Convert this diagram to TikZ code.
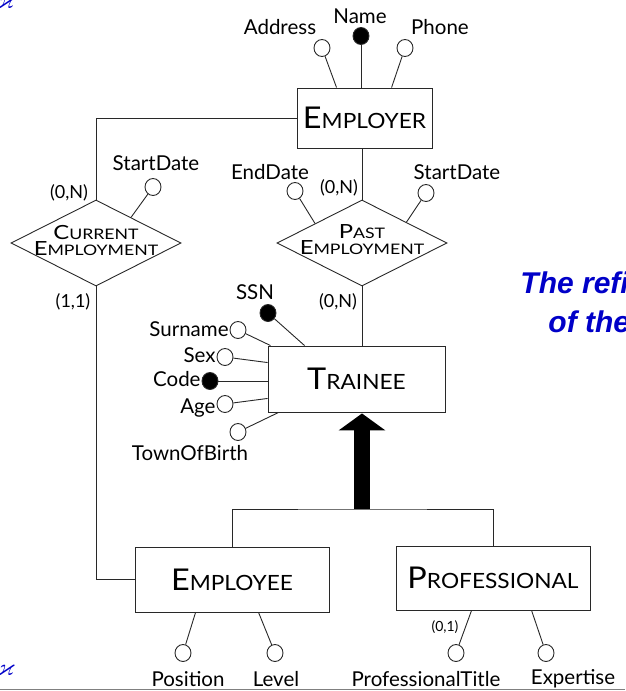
\documentclass[tikz,border=0pt]{standalone}
\usepackage{fontspec}
\usepackage{amssymb}
\setmainfont{Lato}
\newfontfamily\entfont[FakeStretch=1.08]{Lato}
\newfontfamily\relfont[FakeStretch=1.22]{Lato}
\newfontfamily\slidefont{Liberation Sans}
\usetikzlibrary{shapes.geometric,arrows.meta,calc}

\definecolor{slideblue}{RGB}{0,0,200}
\definecolor{erline}{RGB}{40,40,40}

% names in small caps: first letter big, rest small
\newcommand\entname[2]{{\entfont\fontsize{30}{30}\selectfont #1\fontsize{21}{21}\selectfont #2}}
\newcommand\relname[2]{{\relfont\fontsize{19.5}{19.5}\selectfont #1\fontsize{14.5}{14.5}\selectfont #2}}

\begin{document}
\begin{tikzpicture}[x=1pt, y=-1pt, line width=0.9pt, draw=erline, font=\fontsize{20.5}{22}\selectfont]
    \tikzstyle{entity} = [rectangle, draw=erline, minimum width=194, minimum height=65, inner sep=0]
    \tikzstyle{relation} = [diamond, draw=erline, minimum width=170, minimum height=86, inner sep=0]
    \tikzstyle{attr} = [ellipse, draw=erline, fill=white, minimum width=16, minimum height=17, inner sep=0]
    \tikzstyle{keyattr} = [attr, fill=black]
    \tikzstyle{card} = [inner sep=0, font=\fontsize{18}{18}\selectfont]

    \useasboundingbox (0,0) rectangle (625,691);

    % entities
    \node [entity, minimum width=135, minimum height=60] (employer) at (364.5,118) {\entname{E}{MPLOYER}};
    \node [entity, minimum width=177, minimum height=66] (trainee) at (356.5,379) {\entname{T}{RAINEE}};
    \node [entity] (employee) at (232,579.5) {\entname{E}{MPLOYEE}};
    \node [entity, minimum height=64] (professional) at (493,578) {\entname{P}{ROFESSIONAL}};

    % relationships
    \node [relation] (current) at (96,243) {};
    \node [align=center, inner sep=0, font=\fontsize{19}{16}\selectfont] (current-t) at (96,240) {\relname{C}{URRENT}\\\relname{E}{MPLOYMENT}};
    \node [relation] (past) at (362,243) {};
    \node [align=center, inner sep=0, font=\fontsize{19}{16}\selectfont] (past-t) at (362,240) {\relname{P}{AST}\\\relname{E}{MPLOYMENT}};

    % employer attributes
    \node [attr] (address) at (322,48) {};
    \node [keyattr] (name) at (361,36) {};
    \node [attr] (phone) at (405,48) {};
    \node (address-l) at (280,27) {Address};
    \node (name-l) at (360,16) {Name};
    \node (phone-l) at (440,27) {Phone};
    \draw (address) -- ([xshift=40]employer.north west);
    \draw (name) -- (name |- employer.north);
    \draw (phone) -- ([xshift=95]employer.north west);

    % relationship attributes
    \node [attr] (cur-start) at (153,187) {};
    \node (cur-start-l) at (156,163) {StartDate};
    \draw (cur-start) -- ($(current.north)!0.41!(current.east)$);
    \node [attr] (past-end) at (295,191) {};
    \node (past-end-l) at (270,172) {EndDate};
    \draw (past-end) -- ($(past.north)!0.55!(past.west)$);
    \node [attr] (past-start) at (426,193) {};
    \node (past-start-l) at (457,172) {StartDate};
    \draw (past-start) -- ($(past.north)!0.52!(past.east)$);

    % trainee attributes
    \node [keyattr] (ssn) at (268,313) {};
    \node (ssn-l) at (255,292) {SSN};
    \node [attr] (surname) at (238,330) {};
    \node [anchor=east, inner sep=0] (surname-l) at (229,329) {Surname};
    \node [attr] (sex) at (225,357) {};
    \node [anchor=east, inner sep=0] (sex-l) at (216,355) {Sex};
    \node [keyattr] (code) at (210,381) {};
    \node [anchor=east, inner sep=0] (code-l) at (201,379) {Code};
    \node [attr] (age) at (225,404) {};
    \node [anchor=east, inner sep=0] (age-l) at (216,408) {Age};
    \node [attr] (town) at (238,432) {};
    \node (town-l) at (190,453) {TownOfBirth};
    \draw (ssn) -- ([xshift=37]trainee.north west);
    \draw (surname) -- ([xshift=3]trainee.north west);
    \draw (sex) -- ([yshift=-17]trainee.north west);
    \draw (code) -- (code -| trainee.west);
    \draw (age) -- ([yshift=14]trainee.south west);
    \draw (town) -- ([xshift=11]trainee.south west);

    % employee and professional attributes
    \node [attr] (position) at (183,653) {};
    \node [attr] (level) at (275,653) {};
    \node [attr] (proftitle) at (456,653) {};
    \node [attr] (expertise) at (546,653) {};
    \node (position-l) at (188,679) {Position};
    \node (level-l) at (276,679) {Level};
    \node (proftitle-l) at (426,679) {ProfessionalTitle};
    \node (expertise-l) at (573,679) {Expertise};
    \draw (position) -- ([xshift=61]employee.south west);
    \draw (level) -- ([xshift=124]employee.south west);
    \draw (proftitle) -- ([xshift=76]professional.south west);
    \draw (expertise) -- ([xshift=136]professional.south west);
    \node [card, font=\fontsize{14}{14}\selectfont] (proftitle-c) at (445,627) {(0,1)};

    % relationship lines and cardinalities
    \draw (employer.west) -| (current.north);
    \draw (current.south) |- (employee.west);
    \draw (past.north) -- (past.north |- employer.south);
    \draw (past.south) -- (past.south |- trainee.north);
    \node [card] (cur-emp-c) at (69,193) {(0,N)};
    \node [card] (cur-tr-c) at (73,302) {(1,1)};
    \node [card] (past-emp-c) at (339,188) {(0,N)};
    \node [card] (past-tr-c) at (338,302) {(0,N)};

    % generalization
    \coordinate (isa) at (362,509);
    \draw (employee.north) |- (isa) -| (professional.north);
    \draw [draw=black, line width=16, -{Triangle[width=46,length=17]}] (isa) -- ([yshift=-1]isa |- trainee.south);

    % slide leftovers
    \node [anchor=west, inner sep=0, text=slideblue, font=\slidefont\bfseries\itshape\fontsize{30}{30}\selectfont] (title-a) at (520,283) {The refi};
    \node [anchor=west, inner sep=0, text=slideblue, font=\slidefont\bfseries\itshape\fontsize{30}{30}\selectfont] (title-b) at (548,322) {of the};
    \node [inner sep=0, text=slideblue, font=\fontsize{24}{24}\selectfont] (mark-a) at (6,3) {$\varkappa$};
    \node [inner sep=0, text=slideblue, font=\fontsize{24}{24}\selectfont] (mark-b) at (6,670) {$\varkappa$};
    \draw [gray, line width=1.5] (0,689.5) -- (625,689.5);
\end{tikzpicture}
\end{document}
